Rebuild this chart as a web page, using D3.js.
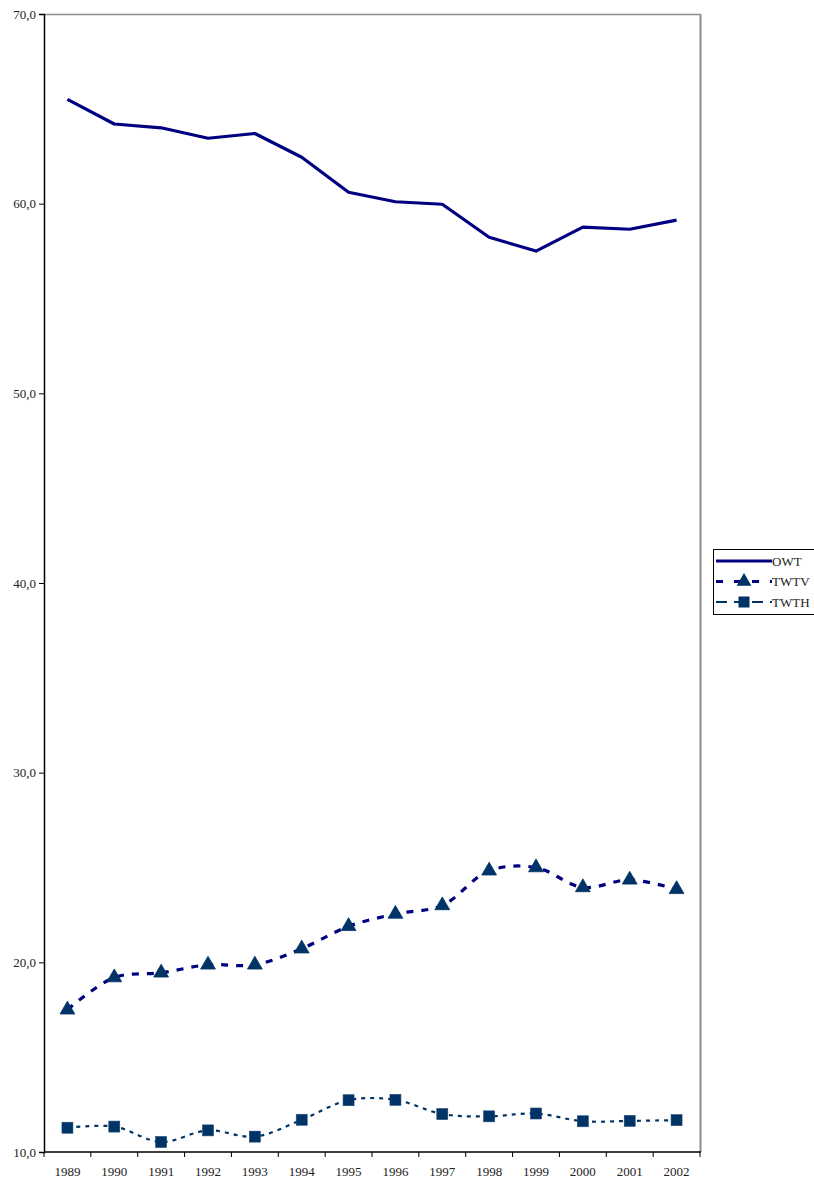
<!DOCTYPE html>
<html>
<head>
<meta charset="utf-8">
<script src="https://cdn.jsdelivr.net/npm/d3@7"></script>
<style>
  html, body { margin: 0; padding: 0; background: #fff; }
  svg text { font-family: "Liberation Serif", "DejaVu Serif", serif; fill: #222; }
</style>
</head>
<body>
<svg id="chart" width="814" height="1182"></svg>
<script>
// Years on the category axis
const years = ["1989","1990","1991","1992","1993","1994","1995","1996","1997","1998","1999","2000","2001","2002"];

// Series values (percent)
const owt  = [65.5, 64.2, 64.0, 63.45, 63.7, 62.45, 60.6, 60.1, 59.97, 58.23, 57.5, 58.76, 58.65, 59.13];
const twtv = [17.5, 19.2, 19.45, 19.87, 19.87, 20.72, 21.9, 22.55, 23.0, 24.83, 25.0, 23.95, 24.35, 23.85];
const twth = [11.28, 11.34, 10.53, 11.14, 10.81, 11.7, 12.73, 12.75, 12.0, 11.88, 12.03, 11.62, 11.64, 11.68];

// Value axis ticks
const yTicks = [10, 20, 30, 40, 50, 60, 70];

const svg = d3.select("#chart");
const plotL = 44, plotR = 700, plotT = 14, plotB = 1152;

const x = d3.scaleBand().domain(years).range([plotL, plotR]);
const cx = d => x(d) + x.bandwidth() / 2;
const y = d3.scaleLinear().domain([10, 70]).range([plotB, plotT]);

const fmt = v => d3.format(".1f")(v).replace(".", ",");

// Plot frame: grey top and right edges
svg.append("line").attr("x1", plotL).attr("x2", plotR).attr("y1", plotT + 0.5).attr("y2", plotT + 0.5)
  .attr("stroke", "#8c8c8c").attr("stroke-width", 1.5);
svg.append("line").attr("x1", plotR + 0.5).attr("x2", plotR + 0.5).attr("y1", plotT).attr("y2", plotB)
  .attr("stroke", "#8c8c8c").attr("stroke-width", 2);

// Value axis
const yAxis = d3.axisLeft(y).tickValues(yTicks).tickFormat(fmt).tickSize(5).tickPadding(3);
const gy = svg.append("g").attr("transform", `translate(${plotL},0)`).call(yAxis);
gy.select(".domain").attr("stroke", "#000").attr("stroke-width", 1.5);
gy.selectAll(".tick line").attr("stroke", "#000");
gy.selectAll("text").style("font-size", "13px").attr("fill", "#222")
  .style("font-family", "'Liberation Serif', 'DejaVu Serif', serif");

// Category axis, with tick marks between the categories
const gx = svg.append("g").attr("transform", `translate(0,${plotB})`);
gx.append("line").attr("x1", plotL).attr("x2", plotR + 1).attr("y1", 0).attr("y2", 0)
  .attr("stroke", "#000").attr("stroke-width", 1.5);
const bounds = years.map(d => x(d)).concat([x(years[years.length - 1]) + x.bandwidth()]);
gx.selectAll("line.tk").data(bounds).join("line").attr("class", "tk")
  .attr("x1", d => d).attr("x2", d => d).attr("y1", 0).attr("y2", 5)
  .attr("stroke", "#000");
gx.selectAll("text").data(years).join("text")
  .attr("x", d => cx(d)).attr("y", 24).attr("text-anchor", "middle")
  .style("font-size", "13px").text(d => d);

// Lines
const straight = d3.line().x((d, i) => cx(years[i])).y(d => y(d));
const smooth = d3.line().x((d, i) => cx(years[i])).y(d => y(d)).curve(d3.curveCatmullRom.alpha(0.5));

svg.append("path").datum(owt).attr("d", straight)
  .attr("fill", "none").attr("stroke", "#000080").attr("stroke-width", 3.2).attr("stroke-linejoin", "round");

svg.append("path").datum(twtv).attr("d", smooth)
  .attr("fill", "none").attr("stroke", "#000080").attr("stroke-width", 3.2).attr("stroke-dasharray", "7,8");

svg.append("path").datum(twth).attr("d", smooth)
  .attr("fill", "none").attr("stroke", "#003366").attr("stroke-width", 2.2).attr("stroke-dasharray", "4,5");

// Markers
const tri = d3.symbol().type(d3.symbolTriangle).size(95);
svg.selectAll("path.tri").data(twtv).join("path").attr("class", "tri")
  .attr("d", tri).attr("transform", (d, i) => `translate(${cx(years[i])},${y(d)})`)
  .attr("fill", "#003366").attr("stroke", "#003366").attr("stroke-width", 0.8);

svg.selectAll("rect.sq").data(twth).join("rect").attr("class", "sq")
  .attr("x", (d, i) => cx(years[i]) - 5.5).attr("y", d => y(d) - 5.5)
  .attr("width", 11).attr("height", 11)
  .attr("fill", "#003366").attr("stroke", "#1f4a78").attr("stroke-width", 0.6);

// Legend
const lg = svg.append("g").attr("transform", "translate(713,549)");
lg.append("rect").attr("x", 0.5).attr("y", 0.5).attr("width", 110).attr("height", 65)
  .attr("fill", "#fff").attr("stroke", "#000").attr("stroke-width", 1);
const items = [
  { name: "OWT",  color: "#000080", w: 3, dash: null, mark: null },
  { name: "TWTV", color: "#000080", w: 3, dash: "7,11", mark: "tri" },
  { name: "TWTH", color: "#003366", w: 2, dash: "11,7", mark: "sq" }
];
items.forEach((it, i) => {
  const yy = 12 + i * 20.5;
  const ln = lg.append("line").attr("x1", 3).attr("x2", 59).attr("y1", yy).attr("y2", yy)
    .attr("stroke", it.color).attr("stroke-width", it.w);
  if (it.dash) ln.attr("stroke-dasharray", it.dash);
  if (it.mark === "tri") {
    lg.append("path").attr("d", tri).attr("transform", `translate(31,${yy})`)
      .attr("fill", "#003366");
  } else if (it.mark === "sq") {
    lg.append("rect").attr("x", 31 - 5.5).attr("y", yy - 5.5).attr("width", 11).attr("height", 11)
      .attr("fill", "#003366");
  }
  lg.append("text").attr("x", 59).attr("y", yy + 4.5).style("font-size", "13px").text(it.name);
});
</script>
</body>
</html>
